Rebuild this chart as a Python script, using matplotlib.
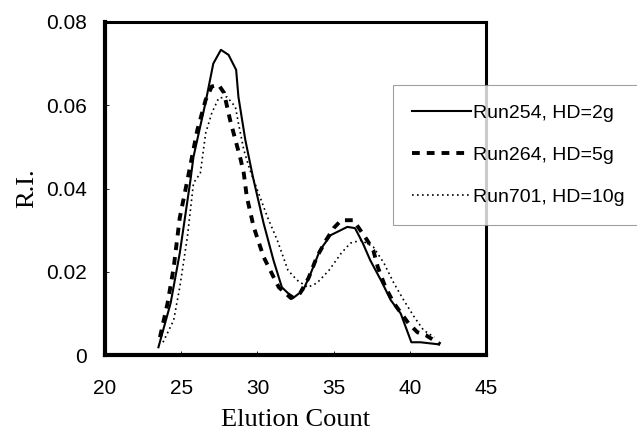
import matplotlib.pyplot as plt

# Datos
x_254 = [23.5, 24.3, 24.9, 25.6, 25.8, 26.6, 27.1, 27.6, 28.1, 28.6, 28.75, 29.2, 29.7, 30.4,
         31.05, 31.6, 32.0, 32.4, 33.0, 33.5, 34.1, 34.8, 35.9, 36.4, 36.9, 37.4, 38.1, 38.75,
         39.4, 40.1, 40.7, 41.9]
y_254 = [0.0019, 0.0125, 0.0245, 0.042, 0.0476, 0.0608, 0.070, 0.0733, 0.0721, 0.0685, 0.062,
         0.0517, 0.0428, 0.0317, 0.0228, 0.0163, 0.0149, 0.0139, 0.0156, 0.0197, 0.0252, 0.0288,
         0.0308, 0.0305, 0.027, 0.0228, 0.018, 0.0132, 0.010, 0.0031, 0.0031, 0.0026]

x_264 = [23.6, 24.1, 24.5, 24.9, 25.4, 26.05, 26.6, 27.0, 27.45, 27.8, 28.2, 28.55, 28.9, 29.1,
         29.3, 29.75, 30.4, 31.05, 31.4, 32.2, 32.8, 33.35, 33.9, 34.5, 35.0, 35.5, 36.3, 36.6,
         37.2, 37.6, 37.9, 38.4, 38.95, 39.9, 40.5, 41.05, 42.0]
y_264 = [0.0043, 0.0125, 0.021, 0.033, 0.042, 0.054, 0.0613, 0.0645, 0.0649, 0.063, 0.0565,
         0.0517, 0.0469, 0.0437, 0.038, 0.0308, 0.0236, 0.0188, 0.0163, 0.0137, 0.0149, 0.0185,
         0.0236, 0.0276, 0.0305, 0.0324, 0.0324, 0.0308, 0.0276, 0.0252, 0.0211, 0.0163, 0.0125,
         0.0077, 0.0055, 0.0048, 0.0026]

x_701 = [23.8, 24.5, 24.9, 25.4, 25.8, 26.25, 26.6, 27.0, 27.45, 28.0, 28.55, 28.75, 29.1, 29.5,
         30.0, 30.65, 31.3, 32.0, 32.6, 33.3, 33.9, 34.7, 35.5, 36.1, 36.8, 37.6, 38.3, 38.95,
         39.6, 40.3, 40.9, 41.6]
y_701 = [0.0031, 0.0084, 0.0163, 0.0284, 0.0413, 0.0437, 0.0533, 0.0581, 0.0617, 0.062, 0.0596,
         0.0557, 0.0493, 0.0445, 0.0396, 0.0332, 0.0276, 0.0204, 0.018, 0.0163, 0.0173, 0.0204,
         0.0245, 0.0269, 0.0276, 0.026, 0.0221, 0.0173, 0.0132, 0.0091, 0.006, 0.0043]

labels = ['Run254, HD=2g', 'Run264, HD=5g', 'Run701, HD=10g']
x_ticks = [20, 25, 30, 35, 40, 45]
y_ticks = [0, 0.02, 0.04, 0.06, 0.08]
y_tick_labels = ['0', '0.02', '0.04', '0.06', '0.08']

fig = plt.figure(figsize=(6.37, 4.30), dpi=100)
ax = fig.add_axes([0.165, 0.174, 0.598, 0.775])

ax.plot(x_254, y_254, color='black', lw=1.5, ls='-', label=labels[0])
ax.plot(x_264, y_264, color='black', lw=2.8, ls=(0, (2.0, 1.8)), label=labels[1])
ax.plot(x_701, y_701, color='black', lw=1.2, ls=(0, (1.0, 2.0)), label=labels[2])

ax.set_xlim(20, 45)
ax.set_ylim(0, 0.08)
ax.set_xticks(x_ticks)
ax.set_yticks(y_ticks)
ax.set_yticklabels(y_tick_labels)
ax.tick_params(direction='in', length=3, width=0.6, labelsize=15)
ax.tick_params(axis='x', pad=17)
ax.tick_params(axis='y', pad=13)
for lab in ax.get_xticklabels() + ax.get_yticklabels():
    lab.set_family('Liberation Sans')

for side in ['left', 'bottom']:
    ax.spines[side].set_linewidth(3.0)
for side in ['top', 'right']:
    ax.spines[side].set_linewidth(2.2)

ax.set_xlabel('Elution Count', family='Liberation Serif', fontsize=19, labelpad=8)
ax.set_ylabel('R.I.', family='Liberation Serif', fontsize=19, labelpad=6)

leg = ax.legend(loc='upper left', mode='expand',
                bbox_to_anchor=(393 / 637, 1 - 220 / 430, 270 / 637, 135 / 430),
                bbox_transform=fig.transFigure, prop={'family': 'Liberation Sans', 'size': 14},
                frameon=True, fancybox=False, handlelength=3.0, handletextpad=0.1,
                labelspacing=1.25, borderpad=1.0, borderaxespad=0)
leg.get_frame().set_edgecolor('#888888')
leg.get_frame().set_linewidth(0.8)

fig.savefig('out.png', dpi=100)
